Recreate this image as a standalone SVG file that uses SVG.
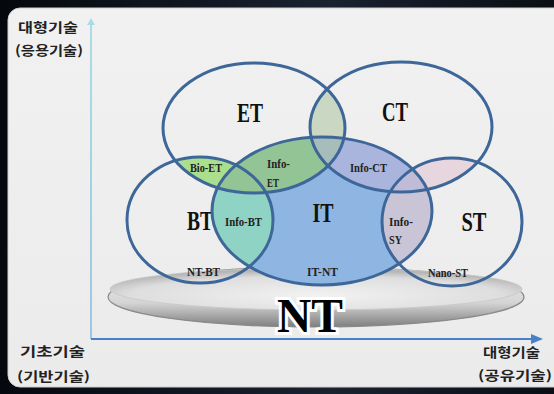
<svg xmlns="http://www.w3.org/2000/svg" width="554" height="394" viewBox="0 0 554 394">
<style>
.ol{fill:none;stroke:#3d6699;stroke-width:3}
.big{font-family:"Liberation Serif",serif;font-weight:bold;font-size:27px;fill:#111;text-anchor:middle}
.sm{font-family:"Liberation Serif",serif;font-weight:bold;font-size:13px;fill:#222}
.kr{font-family:"Noto Sans CJK KR",sans-serif;font-weight:bold;font-size:13px;fill:#222}
</style>
<defs>
<linearGradient id="bg" x1="0" y1="0" x2="1" y2="0"><stop offset="0" stop-color="#05080d"/><stop offset="0.6" stop-color="#1a2230"/><stop offset="1" stop-color="#0a0e14"/></linearGradient>
<linearGradient id="panel" x1="0" y1="0" x2="0" y2="1"><stop offset="0" stop-color="#f1f1f1"/><stop offset="1" stop-color="#ebebeb"/></linearGradient>
<linearGradient id="rim" x1="0" y1="0" x2="0" y2="1"><stop offset="0" stop-color="#f4f4f4"/><stop offset="0.6" stop-color="#d4d4d4"/><stop offset="1" stop-color="#7e7e7e"/></linearGradient>
<radialGradient id="top" cx="0.5" cy="0.65" r="0.6"><stop offset="0" stop-color="#f2f2f2"/><stop offset="0.75" stop-color="#dedede"/><stop offset="1" stop-color="#b5b5b5"/></radialGradient>
<linearGradient id="yax" gradientUnits="userSpaceOnUse" x1="0" y1="20" x2="0" y2="339"><stop offset="0" stop-color="#a9dde6"/><stop offset="1" stop-color="#9cc6e4"/></linearGradient>
<marker id="ahY" markerWidth="8" markerHeight="8" refX="6" refY="4" orient="auto" markerUnits="userSpaceOnUse"><path d="M0,0 L7,4 L0,8 z" fill="#a9dde6"/></marker>
<marker id="ahX" markerWidth="12" markerHeight="10" refX="10" refY="5" orient="auto" markerUnits="userSpaceOnUse"><path d="M0,0 L12,5 L0,10 z" fill="#4a80c8"/></marker>
<clipPath id="cET"><ellipse cx="254" cy="128" rx="91" ry="65"/></clipPath>
<clipPath id="cCT"><ellipse cx="401" cy="127" rx="91" ry="65"/></clipPath>
<clipPath id="cBT"><ellipse cx="200" cy="220" rx="73" ry="63"/></clipPath>
<clipPath id="cST"><ellipse cx="452" cy="222" rx="70" ry="64"/></clipPath>
</defs>
<rect x="0" y="0" width="554" height="394" fill="url(#bg)"/>
<rect x="8" y="8" width="570" height="379" rx="12" fill="url(#panel)" stroke="#cfcfcf" stroke-width="1"/>

<g id="NT">
<ellipse cx="316" cy="297" rx="208" ry="30" fill="url(#rim)" stroke="#8a8a8a" stroke-width="1.2"/>
<ellipse cx="316" cy="289" rx="206" ry="21" fill="url(#top)" stroke="#c8c8c8" stroke-width="0.8"/>
</g>

<g id="fills">
<ellipse cx="322" cy="211" rx="110" ry="74" fill="#8fb6e3"/>
<g clip-path="url(#cBT)"><ellipse cx="322" cy="211" rx="110" ry="74" fill="#8fd3c4"/></g>
<g clip-path="url(#cET)">
<ellipse cx="200" cy="220" rx="73" ry="63" fill="#aadf8e"/>
<ellipse cx="401" cy="127" rx="91" ry="65" fill="#c9d7c3"/>
<ellipse cx="322" cy="211" rx="110" ry="74" fill="#92c496"/>
</g>
<g clip-path="url(#cCT)">
<ellipse cx="452" cy="222" rx="70" ry="64" fill="#e8d6de"/>
<ellipse cx="322" cy="211" rx="110" ry="74" fill="#aab5de"/>
</g>
<g clip-path="url(#cCT)"><g clip-path="url(#cET)"><ellipse cx="322" cy="211" rx="110" ry="74" fill="#a7bdb9"/></g></g>
<g clip-path="url(#cST)"><ellipse cx="322" cy="211" rx="110" ry="74" fill="#c9c5d6"/></g>
<g clip-path="url(#cST)"><g clip-path="url(#cCT)"><ellipse cx="322" cy="211" rx="110" ry="74" fill="#c0bcd8"/></g></g>
</g>

<g id="ET"><ellipse class="ol" cx="254" cy="128" rx="91" ry="65"/><text class="big" x="250" y="122" textLength="26" lengthAdjust="spacingAndGlyphs">ET</text></g>
<g id="CT"><ellipse class="ol" cx="401" cy="127" rx="91" ry="65"/><text class="big" x="395" y="121" textLength="26" lengthAdjust="spacingAndGlyphs">CT</text></g>
<g id="BT"><ellipse class="ol" cx="200" cy="220" rx="73" ry="63"/><text class="big" x="200" y="230" textLength="26" lengthAdjust="spacingAndGlyphs">BT</text></g>
<g id="IT"><ellipse class="ol" cx="322" cy="211" rx="110" ry="74"/><text class="big" x="323" y="222" textLength="21" lengthAdjust="spacingAndGlyphs">IT</text></g>
<g id="ST"><ellipse class="ol" cx="452" cy="222" rx="70" ry="64"/><text class="big" x="474" y="231" textLength="25" lengthAdjust="spacingAndGlyphs">ST</text></g>

<g id="labels">
<text class="sm" x="190" y="172" textLength="32" lengthAdjust="spacingAndGlyphs">Bio-ET</text>
<text class="sm" x="267" y="168" textLength="23" lengthAdjust="spacingAndGlyphs">Info-</text>
<text class="sm" x="267" y="187" textLength="12" lengthAdjust="spacingAndGlyphs">ET</text>
<text class="sm" x="350" y="172" textLength="37" lengthAdjust="spacingAndGlyphs">Info-CT</text>
<text class="sm" x="225" y="226" textLength="37" lengthAdjust="spacingAndGlyphs">Info-BT</text>
<text class="sm" x="389" y="226" textLength="24" lengthAdjust="spacingAndGlyphs">Info-</text>
<text class="sm" x="389" y="244" textLength="13" lengthAdjust="spacingAndGlyphs">SY</text>
<text class="sm" x="187" y="276" textLength="33" lengthAdjust="spacingAndGlyphs">NT-BT</text>
<text class="sm" x="307" y="276" textLength="31" lengthAdjust="spacingAndGlyphs">IT-NT</text>
<text class="sm" x="428" y="277" textLength="40" lengthAdjust="spacingAndGlyphs">Nano-ST</text>
</g>

<g id="NT-label">
<text x="310" y="332" font-family="Liberation Serif, serif" font-weight="bold" font-size="48" text-anchor="middle" textLength="66" lengthAdjust="spacingAndGlyphs" fill="#000" stroke="#fff" stroke-width="6" paint-order="stroke">NT</text>
</g>

<g id="axes">
<line x1="91" y1="339" x2="91" y2="19" stroke="url(#yax)" stroke-width="2" marker-end="url(#ahY)"/>
<line x1="91" y1="339" x2="541" y2="339" stroke="#4a80c8" stroke-width="2" marker-end="url(#ahX)"/>
</g>

<g id="axis-labels">
<text class="kr" x="18" y="32" textLength="60" lengthAdjust="spacingAndGlyphs">대형기술</text>
<text class="kr" x="15" y="55" textLength="68" lengthAdjust="spacingAndGlyphs">(응용기술)</text>
<text class="kr" x="20" y="356" textLength="65" lengthAdjust="spacingAndGlyphs">기초기술</text>
<text class="kr" x="17" y="381" textLength="73" lengthAdjust="spacingAndGlyphs">(기반기술)</text>
<text class="kr" x="483" y="357" textLength="57" lengthAdjust="spacingAndGlyphs">대형기술</text>
<text class="kr" x="478" y="380" textLength="74" lengthAdjust="spacingAndGlyphs">(공유기술)</text>
</g>
</svg>
